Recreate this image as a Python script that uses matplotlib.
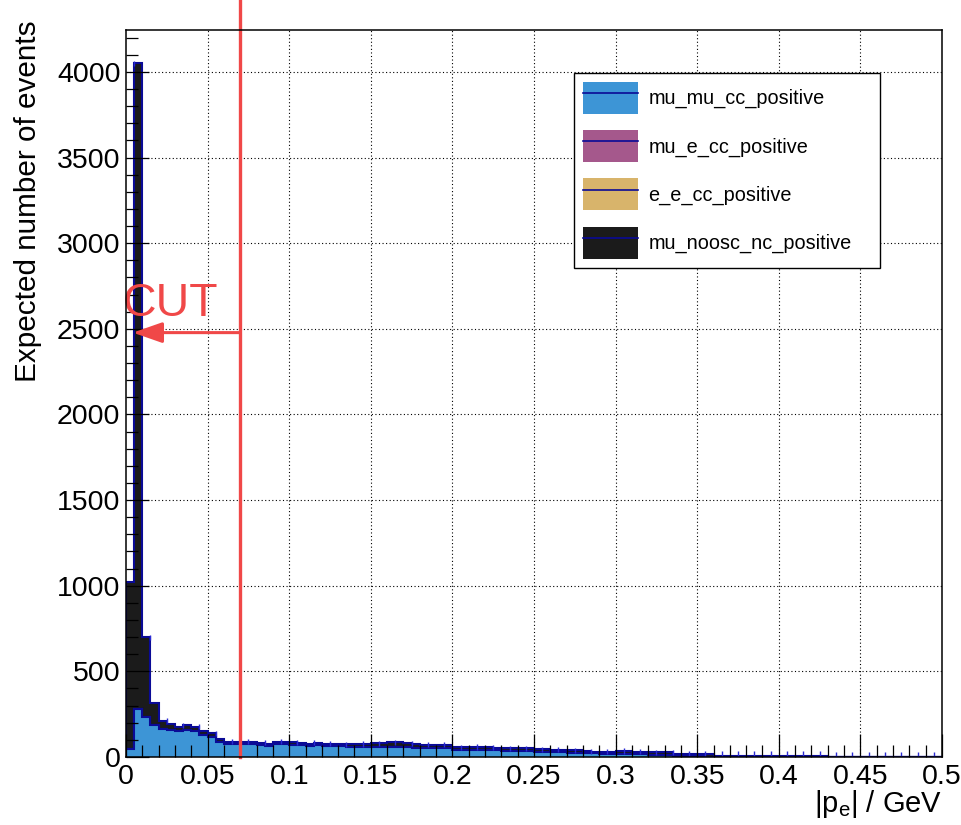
import numpy as np
import matplotlib
matplotlib.use("Agg")
import matplotlib.pyplot as plt
from matplotlib.patches import Patch
from matplotlib.lines import Line2D
from matplotlib.ticker import MultipleLocator

plt.rcParams['font.family'] = ['Liberation Sans', 'DejaVu Sans']
plt.rcParams['mathtext.fontset'] = 'custom'
plt.rcParams['mathtext.rm'] = 'Liberation Sans'

# ---- histogram contents (100 bins of 5 MeV from 0 to 0.5 GeV) ----
n_bins = 100
p_min, p_max = 0.0, 0.5

mu_mu_cc = np.array([
    45, 283, 235, 186, 161, 158, 150, 158, 150, 130,
    115, 88, 76, 75, 76, 76, 72, 66, 75, 75,
    72, 70, 64, 70, 65, 62, 62, 61, 61, 60,
    58, 58, 60, 60, 56, 54, 52, 52, 51, 50,
    42, 42, 42, 40, 40, 38, 36, 36, 36, 35,
    30, 30, 28, 27, 26, 25, 23, 21, 20, 19,
    17, 17, 16, 15, 14, 14, 12, 4, 3, 3,
    3, 2, 1, 1, 1, 1, 1, 1, 1, 1,
    1, 1, 1, 1, 1, 1, 0, 0, 0, 0,
    0, 0, 0, 0, 0, 0, 0, 0, 0, 0,
], dtype=float)

mu_noosc_nc = np.array([
    975, 3767, 465, 130, 50, 34, 27, 28, 27, 20,
    23, 15, 13, 13, 13, 13, 12, 12, 13, 13,
    13, 13, 12, 13, 13, 12, 12, 13, 13, 16,
    22, 22, 26, 26, 24, 23, 20, 20, 21, 21,
    15, 15, 16, 16, 16, 17, 14, 14, 16, 17,
    15, 15, 14, 15, 14, 13, 11, 11, 11, 12,
    18, 18, 14, 13, 14, 13, 15, 16, 17, 17,
    15, 16, 6, 5, 5, 5, 5, 5, 5, 5,
    5, 5, 5, 5, 5, 5, 0, 0, 0, 0,
    0, 0, 0, 0, 0, 0, 0, 0, 0, 0,
], dtype=float)

# appearance channels: no events in this momentum range
mu_e_cc = np.zeros(n_bins)
e_e_cc = np.zeros(n_bins)

# half-widths of the statistical error bars, 10 MeV spacing
err_half = np.array([
    15, 15, 15, 15, 15, 15, 15, 15, 15, 15,
    15, 15, 15, 15, 15, 15, 15, 15, 15, 15,
    15, 15, 15, 15, 15, 15, 15, 15, 15, 15,
    15, 15, 15, 15, 15, 18, 30, 30, 30, 30,
    30, 30, 30, 30, 30, 30, 30, 30, 30, 30,
], dtype=float)

labels = ["mu_mu_cc_positive", "mu_e_cc_positive", "e_e_cc_positive", "mu_noosc_nc_positive"]
fills = ["#3d95d6", "#a5588c", "#d8b46b", "#1b1b1b"]
outline = "#0a0a96"
err_color = "#2b2bd4"
red = "#f04848"
cut_value = 0.07
arrow_level = 2478

# ---- figure ----
W, H = 962, 825
fig = plt.figure(figsize=(W / 100, H / 100), dpi=100)
ax = fig.add_axes([126 / W, 1 - 757 / H, 816 / W, 727 / H])

edges = np.linspace(p_min, p_max, n_bins + 1)
layers = [mu_mu_cc, mu_e_cc, e_e_cc, mu_noosc_nc]
cum = np.cumsum(np.vstack(layers), axis=0)

# grid (below the histograms)
for xv in np.arange(0.05, 0.5, 0.05):
    ax.axvline(xv, color="black", lw=0.8, ls=(0, (1, 2.2)), zorder=0.5)
for yv in np.arange(500, 4001, 500):
    ax.axhline(yv, color="black", lw=0.8, ls=(0, (1, 2.2)), zorder=0.5)

# stacked histogram: draw from the top layer down, each filled from zero
for k in range(len(layers) - 1, -1, -1):
    ax.stairs(cum[k], edges, baseline=0, fill=True, color=fills[k], zorder=1 + (3 - k) * 0.1)
    ax.stairs(cum[k], edges, baseline=0, fill=False, color=outline, lw=1.5,
              zorder=1.05 + (3 - k) * 0.1)

# error bars on the stack total
total = cum[-1]
err_x = edges[1:-1:2]
err_top = np.maximum(total[0::2], total[1::2])
ax.vlines(err_x, np.maximum(err_top - err_half, 0), err_top + err_half,
          color=err_color, lw=1.0, zorder=1.6)

# cut line, arrow and label
ax.axvline(cut_value, ymin=0, ymax=757 / 727, color=red, lw=2.4, clip_on=False, zorder=3)
ax.annotate("", xy=(0.0042, arrow_level), xytext=(cut_value, arrow_level),
            arrowprops=dict(arrowstyle="-|>,head_length=18,head_width=6.3",
                            mutation_scale=1, color=red, lw=2.2,
                            shrinkA=0, shrinkB=0), zorder=3)
ax.text(-0.0022, 2575, "CUT", color=red, fontsize=33.5, ha="left", va="baseline",
        zorder=3, clip_on=False)

# axes styling
ax.set_xlim(p_min, p_max)
ax.set_ylim(0, 4245)
ax.xaxis.set_major_locator(MultipleLocator(0.05))
ax.xaxis.set_minor_locator(MultipleLocator(0.01))
ax.yaxis.set_major_locator(MultipleLocator(500))
ax.yaxis.set_minor_locator(MultipleLocator(100))
ax.set_xticks(np.arange(0, 0.501, 0.05))
ax.set_xticklabels(["0", "0.05", "0.1", "0.15", "0.2", "0.25", "0.3", "0.35", "0.4", "0.45", "0.5"])
ax.tick_params(axis="both", which="both", direction="in", top=False, right=False,
               colors="black", labelsize=20.5)
ax.tick_params(axis="both", which="major", length=16.5, width=0.9)
ax.tick_params(axis="both", which="minor", length=8.6, width=0.9)
ax.tick_params(axis="x", which="major", pad=5)
ax.tick_params(axis="y", which="major", pad=4)
for s in ax.spines.values():
    s.set_linewidth(1.1)
    s.set_color("black")
    s.set_zorder(4)
ax.set_axisbelow(False)

ax.text(1.0, -(812 - 757) / 727, r"$\mathregular{|p_{e}|}$ / GeV", transform=ax.transAxes,
        ha="right", va="baseline", fontsize=21)
fig.text(28 / W, 1 - 20 / H, "Expected number of events", rotation=90,
         ha="center", va="top", fontsize=21.4)

# legend: filled box with the outline colour drawn through it
handles = [(Patch(facecolor=c, edgecolor="none"), Line2D([], [], color=outline, lw=1.2))
           for c in fills]
leg = ax.legend(handles, labels, loc="upper left",
                bbox_to_anchor=((574 - 126) / 816, (757 - 73) / 727, 306 / 816, 0),
                mode="expand", borderaxespad=0, fontsize=14.3,
                handlelength=2.75, handleheight=2.1, labelspacing=0.82,
                handletextpad=0.55, borderpad=0.45, fancybox=False,
                edgecolor="black", framealpha=1)
leg.get_frame().set_linewidth(1.0)
leg.set_zorder(5)

fig.savefig("out.png", dpi=100, facecolor="white")
